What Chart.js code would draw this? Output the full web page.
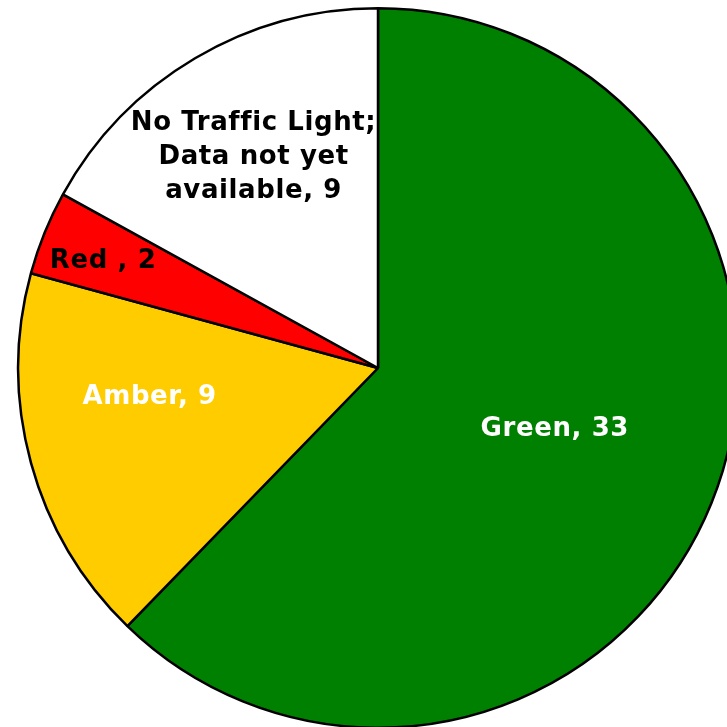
<!DOCTYPE html>
<html><head><meta charset="utf-8">
<script src="https://cdn.jsdelivr.net/npm/chart.js@4/dist/chart.umd.min.js"></script>
<style>
html,body{margin:0;padding:0;background:#fff;overflow:hidden;width:727px;height:727px;}
#wrap{position:absolute;left:0;top:0;width:756px;height:736px;}
</style></head><body>
<div id="wrap"><canvas id="c" width="756" height="736"></canvas></div>
<script>
const categories = ["Green", "Amber", "Red ", "No Traffic Light; Data not yet available"];
const values = [33, 9, 2, 9];
const colors = ["#008000", "#FFCC00", "#FF0000", "#FFFFFF"];
const labelLines = [["Green, 33"], ["Amber, 9"], ["Red , 2"], ["No Traffic Light;", "Data not yet", "available, 9"]];
const labelColors = ["#FFFFFF", "#FFFFFF", "#000000", "#000000"];
// label placement: fraction of radius, angle nudge (degrees)
const labelRadius = [0.52, 0.64, 0.82, 0.68];
const labelAngleNudge = [-3, 8, -0.8, 0];

const labelPlugin = {
  id: 'sliceLabels',
  afterDatasetsDraw(chart) {
    const ctx = chart.ctx;
    const meta = chart.getDatasetMeta(0);
    ctx.save();
    ctx.font = 'bold 26px "DejaVu Sans"';
    ctx.letterSpacing = '0.6px';
    ctx.textAlign = 'center';
    ctx.textBaseline = 'middle';
    meta.data.forEach((arc, i) => {
      const p = arc.getProps(['x','y','startAngle','endAngle','outerRadius'], true);
      const a = (p.startAngle + p.endAngle) / 2 + labelAngleNudge[i] * Math.PI / 180;
      const r = p.outerRadius * labelRadius[i];
      const cx = p.x + Math.cos(a) * r;
      const cy = p.y + Math.sin(a) * r;
      const lines = labelLines[i];
      const lh = 34;
      ctx.fillStyle = labelColors[i];
      lines.forEach((t, k) => {
        ctx.fillText(t, cx, cy + (k - (lines.length - 1) / 2) * lh);
      });
    });
    ctx.restore();
  }
};

new Chart(document.getElementById('c'), {
  type: 'pie',
  data: {
    labels: categories,
    datasets: [{
      data: values,
      backgroundColor: colors,
      borderColor: '#000000',
      borderWidth: 2.5,
      borderAlign: 'center'
    }]
  },
  options: {
    responsive: false,
    animation: false,
    layout: { padding: 7 },
    plugins: { legend: { display: false }, tooltip: { enabled: false } }
  },
  plugins: [labelPlugin]
});
</script>
</body></html>
